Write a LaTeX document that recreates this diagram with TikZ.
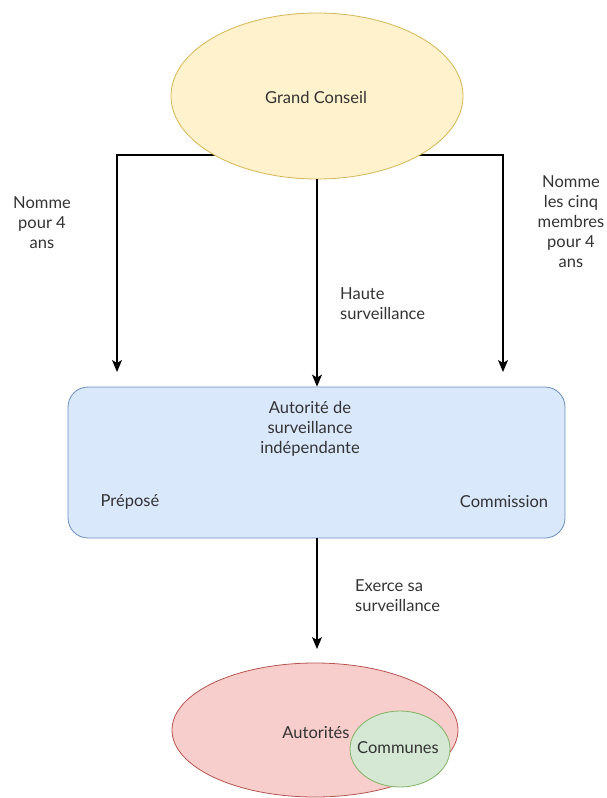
\documentclass[tikz,border=0pt]{standalone}
\usepackage{fontspec}
\setmainfont{Lato}
\usetikzlibrary{arrows.meta,shapes.geometric,backgrounds}
\definecolor{txt}{HTML}{333333}
\definecolor{yfill}{HTML}{FFF2CC}\definecolor{ydraw}{HTML}{D6B656}
\definecolor{bfill}{HTML}{DAE8FC}\definecolor{bdraw}{HTML}{6C8EBF}
\definecolor{rfill}{HTML}{F8CECC}\definecolor{rdraw}{HTML}{B85450}
\definecolor{gfill}{HTML}{D5E8D4}\definecolor{gdraw}{HTML}{82B366}
\tikzset{
  lbl/.style={text=txt,font=\fontsize{16.5}{20}\selectfont,inner sep=0pt,align=center},
  lbll/.style={lbl,align=left},
  ell/.style={ellipse,inner sep=0pt,line width=0.8pt},
  conn/.style={line width=1.3pt,black,-{Stealth[length=12pt,width=10pt,inset=3pt]}},
}
\begin{document}
\begin{tikzpicture}[x=1pt,y=-1pt]
\useasboundingbox (0,0) rectangle (606,798);
% nodes
\node[ell,fill=yfill,draw=ydraw,minimum width=292pt,minimum height=166pt] (gc) at (317,96) {};
\node[lbl] (gct) at (316,97) {Grand Conseil};
\node[draw=bdraw,fill=bfill,line width=0.8pt,rounded corners=20pt,minimum width=497pt,minimum height=151pt,inner sep=0pt] (asi) at (316.5,462.5) {};
\node[lbl,anchor=north] (asit) at (310,401) {Autorité de\\surveillance\\indépendante};
\node[lbl] (prep) at (130,502) {Préposé};
\node[lbl] (comm) at (504,502) {Commission};
\node[ell,fill=rfill,draw=rdraw,minimum width=286pt,minimum height=134pt] (aut) at (315,730) {};
\node[ell,fill=gfill,draw=gdraw,minimum width=100pt,minimum height=76pt] (com) at (400,749) {};
\node[lbl] (autt) at (316,733) {Autorités};
\node[lbl] (comt) at (398,748) {Communes};
% labels
\node[lbl] (l1) at (42,223) {Nomme\\pour 4\\ans};
\node[lbl] (l2) at (571,222) {Nomme\\les cinq\\membres\\pour 4\\ans};
\node[lbll,anchor=west] (l3) at (340,304) {Haute\\surveillance};
\node[lbll,anchor=west] (l4) at (355,596) {Exerce sa\\surveillance};
% connectors
\coordinate (hl) at (117,155);
\coordinate (hr) at (503,155);
\coordinate (tl) at (117,372);
\coordinate (tr) at (503,372);
\coordinate (tb) at (317,649);
\begin{scope}[on background layer]
\draw[conn] (gc.center |- hl) -- (hl) -- (tl);
\draw[conn] (gc.center |- hr) -- (hr) -- (tr);
\end{scope}
\draw[conn] (gc.south) -- (gc.south |- asi.north);
\draw[conn] (asi.south -| tb) -- (tb);
\end{tikzpicture}
\end{document}
